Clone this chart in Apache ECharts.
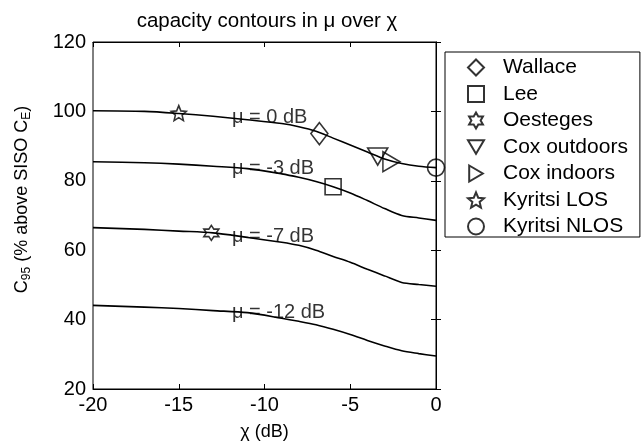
<!DOCTYPE html>
<html><head><meta charset="utf-8">
<script src="https://cdn.jsdelivr.net/npm/echarts@6/dist/echarts.min.js"></script>
<style>html,body{margin:0;padding:0;background:#fff}#c{width:643px;height:443px}</style>
</head><body><div id="c"></div>
<script>
const chi = [-20,-17,-15,-13,-11,-9,-8,-7,-6,-5,-4,-3,-2,-1,0];
const mu0 = [100.2,100,99.4,98.6,97.6,96.5,95.6,94.3,92.3,90.3,88.3,86.3,85,84.2,83.8];
const mu3 = [85.5,85.2,84.8,84.2,83.5,82,81,79.8,78.3,76.5,74.3,72,70,69.3,68.6];
const mu7 = [66.5,66,65.5,65,63.7,62.3,61.4,60,58.2,56.5,54.5,52.6,50.7,50.1,49.6];
const mu12 = [44.1,43.6,43.2,42.6,42,40.4,39.5,38.5,37.2,35.7,34,32.4,31,30.2,29.5];
const curveLabels = ['\u03bc = 0 dB','\u03bc = -3 dB','\u03bc = -7 dB','\u03bc = -12 dB'];
const labelX = [-11.9,-11.9,-11.9,-11.9];
const labelY = [98.2,83.6,64,42];
const markerNames = ['Wallace','Lee','Oesteges','Cox outdoors','Cox indoors','Kyritsi LOS','Kyritsi NLOS'];
const markerX = [-6.8,-6,-13.1,-3.4,-2.6,-15,0];
const markerY = [93.6,78.3,65,87,85.5,99.5,83.8];
const xTicks = [-20,-15,-10,-5,0];
const yTicks = [20,40,60,80,100,120];

const hexagram = 'path://M0,-10 L2.887,-5 L8.66,-5 L5.774,0 L8.66,5 L2.887,5 L0,10 L-2.887,5 L-8.66,5 L-5.774,0 L-8.66,-5 L-2.887,-5 Z';
const star5 = 'path://M0,-10 L2.645,-3.64 L9.51,-3.09 L4.28,1.39 L5.88,8.09 L0,4.5 L-5.88,8.09 L-4.28,1.39 L-9.51,-3.09 L-2.645,-3.64 Z';
const triDown = 'path://M-10,-8 L10,-8 L0,9 Z';
const triRight = 'path://M-8,-10 L9,0 L-8,10 Z';
const symbols = ['diamond','rect',hexagram,triDown,triRight,star5,'circle'];
const sizes = [[17,22],[16,16],[15,15],[20,17],[17,20],[15,15],[17,17]];

const FONT = 'Liberation Sans, Arial, sans-serif';
const curves = [mu0,mu3,mu7,mu12];
const series = [];
curves.forEach((c,i)=>{
  series.push({type:'line', data: chi.map((x,j)=>[x,c[j]]), smooth:0.3, symbol:'none',
    lineStyle:{color:'#000',width:1.6}, silent:true, z:2});
});
series.push({type:'scatter', symbolSize:0, silent:true, z:5,
  data: curveLabels.map((t,i)=>({value:[labelX[i],labelY[i]], name:t})),
  label:{show:true, position:'right', distance:0, formatter:p=>p.name, color:'#000', fontSize:20, fontFamily:FONT}});
markerNames.forEach((n,i)=>{
  series.push({type:'scatter', name:n, symbol:symbols[i], symbolSize:sizes[i], z:4,
    itemStyle:{color:'rgba(0,0,0,0)', borderColor:'#000', borderWidth:1.6},
    data:[[markerX[i],markerY[i]]]});
});

const chart = echarts.init(document.getElementById('c'));
chart.setOption({
  animation:false,
  backgroundColor:'#fff',
  title:{text:'capacity contours in \u03bc over \u03c7', left:262, top:6, textAlign:'center',
    textStyle:{fontSize:20.5, fontWeight:'normal', color:'#000', fontFamily:FONT}},
  grid:{left:93, right:207, top:42, bottom:54, show:true, borderColor:'#000', borderWidth:1,
    containLabel:false, outerBoundsMode:'none'},
  legend:{orient:'vertical', left:445, top:52, padding:[5,12,0,22], itemGap:5.5, itemWidth:16, itemHeight:16,
    borderColor:'#000', borderWidth:1, data: markerNames.map((n,i)=>({name:n, icon:symbols[i]})),
    textStyle:{fontSize:21, color:'#000', fontFamily:FONT, padding:[0,0,0,14]}},
  xAxis:[{type:'value', min:-20, max:0, interval:5, name:'\u03c7 (dB)', nameLocation:'middle', nameGap:34,
    nameTextStyle:{fontSize:18, color:'#000', fontFamily:FONT},
    axisLine:{show:true, lineStyle:{color:'#000'}}, axisTick:{inside:true, length:5, lineStyle:{color:'#000'}},
    axisLabel:{fontSize:20, color:'#000', fontFamily:FONT, margin:6}, splitLine:{show:false}},
    {type:'value', position:'top', min:-20, max:0, interval:5, axisLine:{show:true, lineStyle:{color:'#000'}},
    axisTick:{inside:true, length:5, lineStyle:{color:'#000'}}, axisLabel:{show:false}, splitLine:{show:false}}],
  yAxis:[{type:'value', min:20, max:120, interval:20,
    name:'C{s|95} (% above SISO C{s|E})', nameLocation:'middle', nameGap:60,
    nameTextStyle:{fontSize:18, color:'#000', fontFamily:FONT, padding:[0,0,0,32],
      rich:{s:{fontSize:12, padding:[10,0,0,0], fontFamily:FONT, color:'#000'}}},
    axisLine:{show:true, lineStyle:{color:'#000'}}, axisTick:{inside:true, length:5, lineStyle:{color:'#000'}},
    axisLabel:{fontSize:20, color:'#000', fontFamily:FONT, margin:7}, splitLine:{show:false}},
    {type:'value', position:'right', min:20, max:120, interval:20, axisLine:{show:true, lineStyle:{color:'#000'}},
    axisTick:{inside:true, length:5, lineStyle:{color:'#000'}}, axisLabel:{show:false}, splitLine:{show:false}}],
  series: series
});
</script></body></html>
